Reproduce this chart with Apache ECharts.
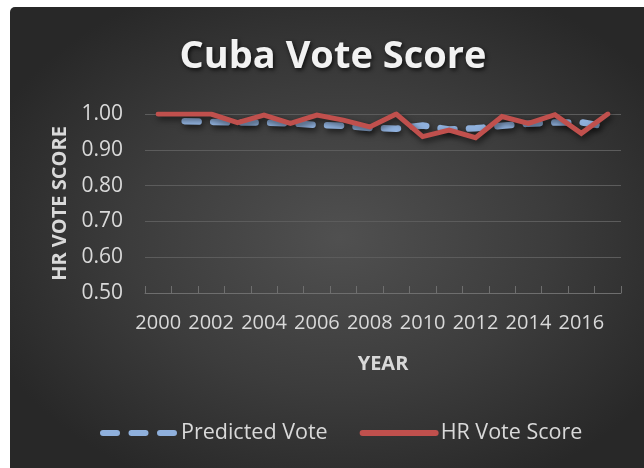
<!DOCTYPE html>
<html>
<head>
<meta charset="utf-8">
<script src="https://cdn.jsdelivr.net/npm/echarts@6/dist/echarts.min.js"></script>
<style>
  html, body { margin: 0; padding: 0; background: #ffffff; }
  #chart {
    position: absolute; left: 10px; top: 7px; width: 634px; height: 461px;
    border-radius: 5px 0 0 0;
    background: radial-gradient(ellipse 60% 60% at 52% 50%, #505050 0%, #3c3c3c 55%, #282828 100%);
  }
</style>
</head>
<body>
<div id="chart"></div>
<script>
// Years on the category axis
const years = ['2000','2001','2002','2003','2004','2005','2006','2007','2008',
               '2009','2010','2011','2012','2013','2014','2015','2016','2017'];
// Model prediction (no estimate for 2000)
const predictedVote = [null, 0.980, 0.978, 0.976, 0.976, 0.974, 0.969, 0.967, 0.961,
                       0.959, 0.968, 0.957, 0.960, 0.967, 0.973, 0.976, 0.977, 0.964];
// Observed human-rights vote score
const hrVoteScore = [1.000, 1.000, 1.000, 0.976, 0.997, 0.974, 0.997, 0.983, 0.964,
                     1.000, 0.937, 0.955, 0.934, 0.993, 0.974, 0.998, 0.946, 1.000];
// Value-axis range and step
const yMin = 0.5, yMax = 1.0, yStep = 0.1;

const FONT = '"Open Sans", "Liberation Sans", sans-serif';
const labelColor = '#d9d9d9';
const blue = '#8fb0dc';
const red = '#c0504d';
const dashPattern = [14, 14.5];

const chart = echarts.init(document.getElementById('chart'), null, { renderer: 'canvas' });

chart.setOption({
  backgroundColor: 'transparent',
  animation: false,
  graphic: [{
    type: 'text',
    x: 323,
    y: 50,
    style: {
      text: 'Cuba Vote Score',
      fill: '#f2f2f2',
      font: 'bold 38px ' + FONT,
      align: 'center',
      verticalAlign: 'middle',
      textShadowColor: 'rgba(0,0,0,0.75)',
      textShadowBlur: 4,
      textShadowOffsetX: 1.5,
      textShadowOffsetY: 2.5
    }
  }],
  grid: { left: 135, top: 107, width: 476, height: 179, containLabel: false },
  legend: {
    left: 90,
    top: 415,
    padding: 0,
    itemWidth: 73,
    itemHeight: 14,
    itemGap: 32,
    itemStyle: { opacity: 0 },
    textStyle: { color: labelColor, fontSize: 21.5, fontFamily: FONT },
    data: [
      { name: 'Predicted Vote', lineStyle: { color: blue, width: 6, type: dashPattern, cap: 'round' } },
      { name: 'HR Vote Score', lineStyle: { color: red, width: 6, cap: 'round' } }
    ]
  },
  xAxis: {
    type: 'category',
    data: years,
    boundaryGap: true,
    name: 'YEAR',
    nameLocation: 'middle',
    nameGap: 61,
    nameTextStyle: { color: labelColor, fontSize: 20, fontWeight: 'bold', fontFamily: FONT },
    axisLine: { show: true, lineStyle: { color: '#6e6e6e', width: 1 } },
    axisTick: { show: true, inside: true, length: 7, interval: 0, lineStyle: { color: '#6e6e6e' } },
    axisLabel: { interval: 1, color: labelColor, fontSize: 20, fontFamily: FONT, margin: 20 },
    splitLine: { show: false }
  },
  yAxis: {
    type: 'value',
    min: yMin,
    max: yMax,
    interval: yStep,
    name: 'HR VOTE SCORE',
    nameLocation: 'middle',
    nameRotate: 90,
    nameGap: 75,
    nameTextStyle: { color: labelColor, fontSize: 20, fontWeight: 'bold', fontFamily: FONT },
    axisLine: { show: false },
    axisTick: { show: false },
    axisLabel: {
      color: labelColor, fontSize: 21, fontFamily: FONT, margin: 22,
      formatter: v => v.toFixed(2)
    },
    splitLine: { show: true, lineStyle: { color: '#5c5c5c', width: 1 } }
  },
  series: [
    {
      name: 'Predicted Vote',
      type: 'line',
      data: predictedVote,
      showSymbol: false,
      symbol: 'none',
      connectNulls: false,
      itemStyle: { color: blue },
      lineStyle: {
        color: blue, width: 6.5, type: dashPattern, cap: 'round',
        shadowColor: 'rgba(0,0,0,0.6)', shadowBlur: 6, shadowOffsetX: 2, shadowOffsetY: 3
      }
    },
    {
      name: 'HR Vote Score',
      type: 'line',
      data: hrVoteScore,
      showSymbol: false,
      symbol: 'none',
      itemStyle: { color: red },
      lineStyle: {
        color: red, width: 5, cap: 'round', join: 'miter',
        shadowColor: 'rgba(0,0,0,0.6)', shadowBlur: 6, shadowOffsetX: 2, shadowOffsetY: 3
      }
    }
  ]
});
</script>
</body>
</html>
